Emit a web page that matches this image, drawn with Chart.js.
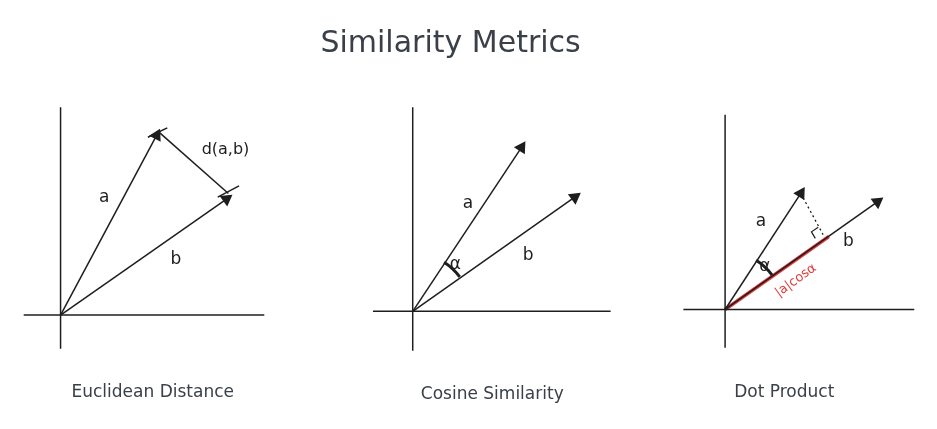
<!DOCTYPE html>
<html>
<head>
<meta charset="utf-8">
<script src="https://cdn.jsdelivr.net/npm/chart.js@4.4.0/dist/chart.umd.min.js"></script>
<style>
body{margin:0;background:#fff;}
#wrap{width:937px;height:429px;}
</style>
</head>
<body>
<div id="wrap"><canvas id="c"></canvas></div>
<script>
// picture units: x 0..937 to the right, y 0..429 downwards
const axisLines = [
  [[48,100],[48,358]], [[10,322],[258,322]],
  [[411,100],[411,360]], [[370,318],[615,318]],
  [[733,108],[733,357]], [[690,316],[928,316]]
];
const vectors = [
  [[48,322],[147,130]], [[48,322],[219,198]],
  [[411,318],[523,143]], [[411,318],[578,196]],
  [[733,316],[811,192]], [[733,316],[890,201]]
];
const helperLines = [
  [[138,132],[158,122]], [[210,196],[232,184]], [[150,127],[221,192]]
];
const projDotted = [[811,192],[834,236]];
const rightAngle = [[826,240],[822,233],[829,228]];
const redLine = [[733,316],[840,238]];
const arcs = [[411,318,60,-57.4,-36.2],[733,316,60,-57.8,-36.1]];
const labels = [
  ["Similarity Metrics",450,32,30,"#3a4049",0],
  ["a",93,196,17,"#1e1e1e",0], ["b",167,263,17,"#1e1e1e",0], ["d(a,b)",218,145,16,"#1e1e1e",0],
  ["a",468,203,17,"#1e1e1e",0], ["b",530,258,17,"#1e1e1e",0], ["α",455,268,17,"#1e1e1e",0],
  ["a",770,222,17,"#1e1e1e",0], ["b",860,243,17,"#1e1e1e",0], ["α",774,270,17,"#1e1e1e",0],
  ["|a|cosα",806,285,13,"#e03c3c",-36],
  ["Euclidean Distance",143,405,17,"#3a4049",0],
  ["Cosine Similarity",493,407,17,"#3a4049",0],
  ["Dot Product",794,405,17,"#3a4049",0]
];

const ink = "#1e1e1e";
const pad = 6.7; // chart area inset left by Chart.js for the arrow points
const toPts = seg => seg.map(p => ({x:p[0], y:p[1]}));
const datasets = [];
axisLines.concat(helperLines).forEach(s => datasets.push({data:toPts(s), borderColor:ink, borderWidth:1.5, pointRadius:0, showLine:true}));
vectors.forEach(s => {
  const ang = Math.atan2(s[1][1]-s[0][1], s[1][0]-s[0][0])*180/Math.PI;
  datasets.push({data:toPts(s), borderColor:ink, backgroundColor:ink, borderWidth:1.5, showLine:true,
    pointStyle:'triangle', pointRadius:[0,6], pointRotation:[0,ang+90]});
});
datasets.push({data:toPts(projDotted), borderColor:ink, borderWidth:1.3, borderDash:[2,3], pointRadius:0, showLine:true});
datasets.push({data:toPts(rightAngle), borderColor:ink, borderWidth:1.2, pointRadius:0, showLine:true});
datasets.push({data:toPts(redLine), borderColor:"#e03c3c", borderWidth:3.5, pointRadius:0, showLine:true});

const extras = {
  id:'extras',
  afterDatasetsDraw(chart){
    const {ctx, scales:{x,y}} = chart;
    ctx.save();
    arcs.forEach(a => {
      const r = x.getPixelForValue(a[0]+a[2]) - x.getPixelForValue(a[0]);
      ctx.beginPath();
      ctx.arc(x.getPixelForValue(a[0]), y.getPixelForValue(a[1]), r, a[3]*Math.PI/180, a[4]*Math.PI/180);
      ctx.strokeStyle = ink; ctx.lineWidth = 3; ctx.stroke();
    });
    ctx.textAlign = 'center'; ctx.textBaseline = 'middle';
    labels.forEach(l => {
      ctx.save();
      ctx.translate(x.getPixelForValue(l[1]), y.getPixelForValue(l[2]));
      ctx.rotate(l[5]*Math.PI/180);
      ctx.font = l[3] + "px 'DejaVu Sans'";
      ctx.fillStyle = l[4];
      ctx.fillText(l[0], 0, 0);
      ctx.restore();
    });
    ctx.restore();
  }
};

new Chart(document.getElementById('c'), {
  type:'scatter',
  data:{datasets:datasets},
  options:{
    responsive:true, maintainAspectRatio:false, animation:false,
    layout:{padding:0},
    plugins:{legend:{display:false}, tooltip:{enabled:false}},
    scales:{
      x:{type:'linear', min:-pad, max:937+pad, display:false},
      y:{type:'linear', min:-pad, max:429+pad, reverse:true, display:false}
    }
  },
  plugins:[extras]
});
</script>
</body>
</html>
